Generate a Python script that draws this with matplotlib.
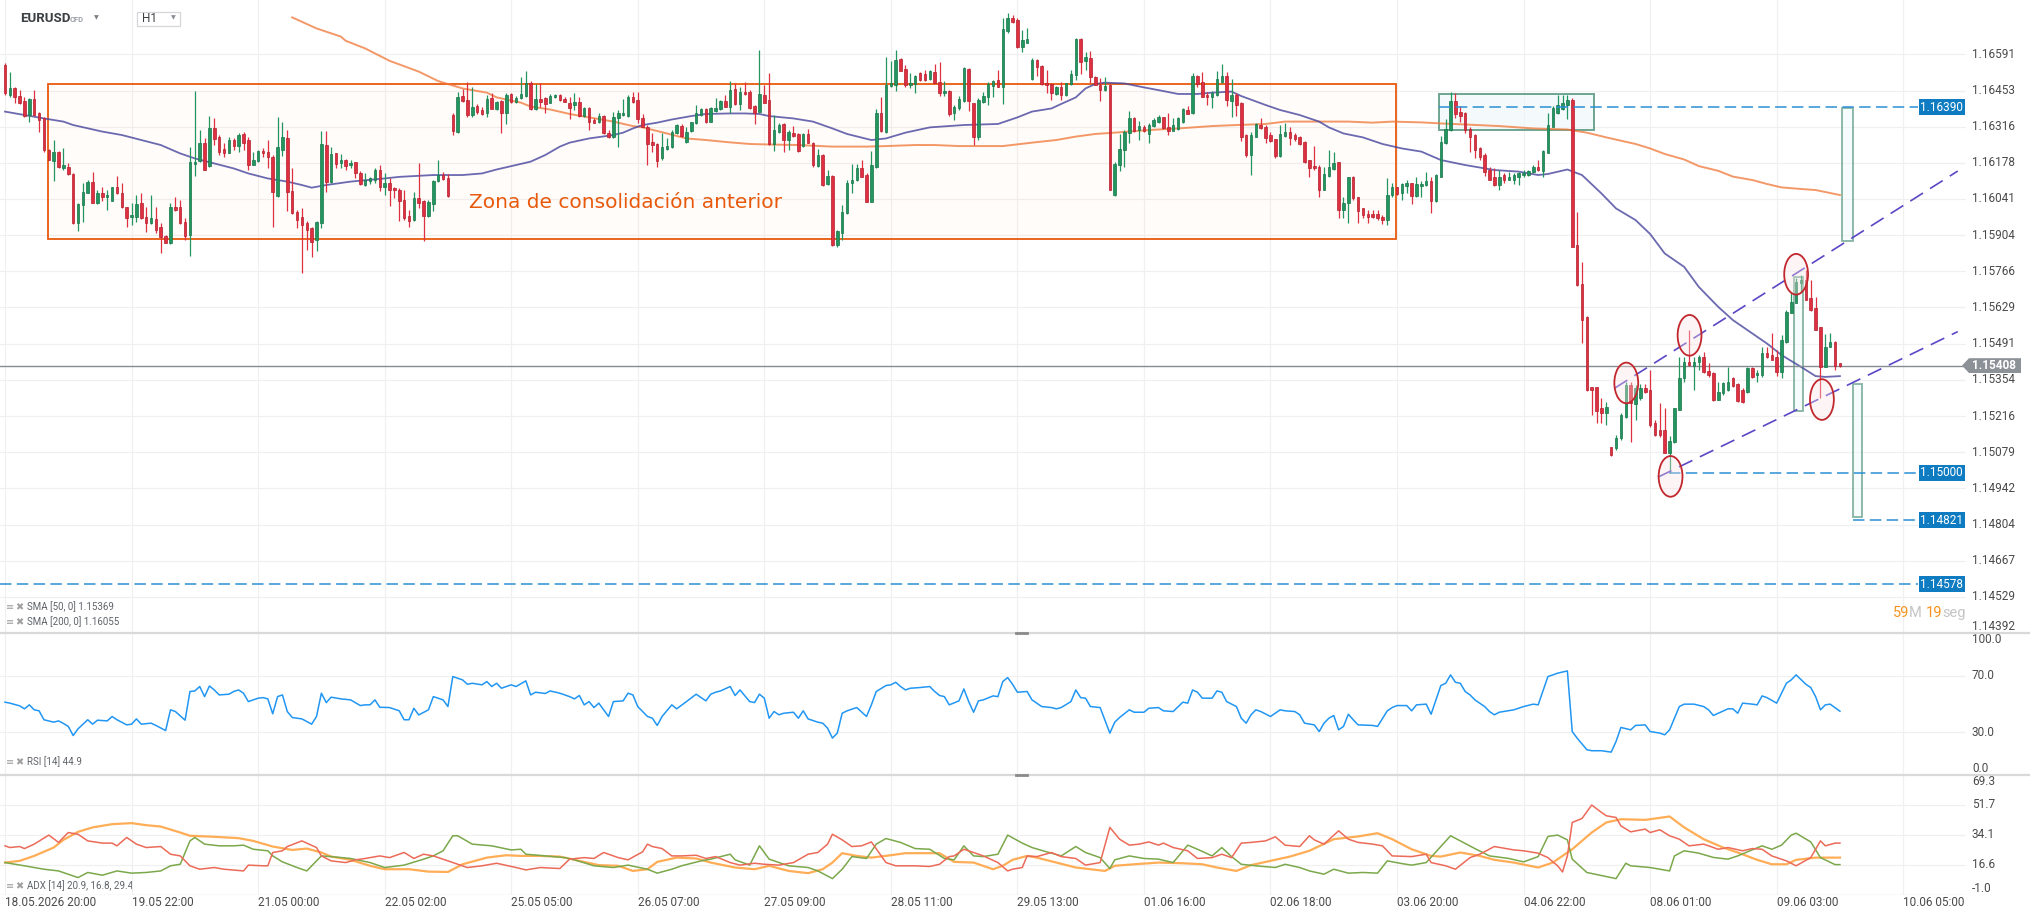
import numpy as np
import matplotlib
matplotlib.use("Agg")
import matplotlib.pyplot as plt
from matplotlib import transforms
from matplotlib.patches import Rectangle, Ellipse, Polygon
from matplotlib.lines import Line2D

plt.rcParams['font.family'] = ['Roboto', 'DejaVu Sans']

# ---------------- data ----------------
# hourly bars, one time label every 26 bars
time_labels = ["18.05.2026 20:00", "19.05 22:00", "21.05 00:00", "22.05 02:00", "25.05 05:00",
               "26.05 07:00", "27.05 09:00", "28.05 11:00", "29.05 13:00", "01.06 16:00",
               "02.06 18:00", "03.06 20:00", "04.06 22:00", "08.06 01:00", "09.06 03:00",
               "10.06 05:00"]
time_label_bars = [0, 26, 52, 78, 104, 130, 156, 182, 208, 234, 260, 286, 312, 338, 364, 390]

price_ticks = [1.14392, 1.14529, 1.14667, 1.14804, 1.14942, 1.15079, 1.15216, 1.15354, 1.15491,
               1.15629, 1.15766, 1.15904, 1.16041, 1.16178, 1.16316, 1.16453, 1.16591]
rsi_ticks = [0.0, 30.0, 70.0, 100.0]
adx_ticks = [-1.0, 16.575, 34.15, 51.725, 69.3]
adx_tick_labels = ["-1.0", "16.6", "34.1", "51.7", "69.3"]

# EURUSD H1 candles, prices in points (1e-5)
open_pts = [
    116550, 116436, 116461, 116432, 116414, 116360, 116419, 116366, 116347, 116227,
    116186, 116221, 116157, 116164, 116136, 115951, 116017, 116065, 116107, 116024,
    116062, 116047, 116034, 116085, 116065, 116009, 115971, 115973, 116024, 115971,
    115948, 115965, 115933, 115901, 115875, 116009, 116009, 115954, 115904, 116174,
    116186, 116255, 116166, 116309, 116275, 116229, 116217, 116265, 116242, 116286,
    116265, 116172, 116186, 116223, 116221, 116202, 116052, 116227, 116274, 116071,
    115992, 115971, 115951, 115929, 115885, 115948, 116246, 116107, 116214, 116176,
    116189, 116170, 116180, 116141, 116094, 116110, 116113, 116151, 116087, 116100,
    116081, 116077, 116039, 115976, 115961, 116043, 116034, 115976, 116022, 116110,
    116134, 116122, 116360, 116297, 116432, 116417, 116360, 116394, 116379, 116369,
    116423, 116381, 116414, 116369, 116440, 116408, 116423, 116432, 116483, 116381,
    116419, 116423, 116407, 116427, 116435, 116419, 116404, 116398, 116408, 116356,
    116385, 116341, 116335, 116356, 116293, 116275, 116347, 116360, 116356, 116427,
    116417, 116347, 116316, 116256, 116250, 116195, 116229, 116237, 116290, 116318,
    116259, 116300, 116328, 116360, 116381, 116335, 116376, 116381, 116414, 116392,
    116457, 116400, 116449, 116449, 116394, 116373, 116436, 116417, 116250, 116297,
    116326, 116265, 116293, 116288, 116242, 116288, 116255, 116167, 116208, 116098,
    116128, 115866, 115913, 115986, 116103, 116115, 116158, 116132, 116030, 116164,
    116369, 116297, 116470, 116474, 116571, 116533, 116474, 116478, 116518, 116516,
    116495, 116525, 116487, 116442, 116451, 116366, 116385, 116414, 116533, 116404,
    116275, 116411, 116427, 116471, 116493, 116468, 116680, 116727, 116721, 116617,
    116635, 116495, 116569, 116546, 116483, 116478, 116440, 116465, 116436, 116478,
    116512, 116648, 116566, 116575, 116506, 116474, 116455, 116474, 116055, 116170,
    116227, 116293, 116347, 116303, 116313, 116288, 116318, 116335, 116351, 116313,
    116300, 116305, 116335, 116379, 116366, 116508, 116487, 116436, 116430, 116436,
    116487, 116508, 116414, 116436, 116407, 116284, 116208, 116278, 116322, 116316,
    116284, 116267, 116205, 116280, 116294, 116284, 116275, 116256, 116189, 116166,
    116164, 116077, 116129, 116155, 116180, 116001, 116027, 116123, 116047, 116005,
    115984, 115983, 115984, 115971, 115963, 116055, 116087, 116062, 116090, 116100,
    116052, 116090, 116094, 116109, 116034, 116126, 116252, 116303, 116414, 116373,
    116366, 116307, 116284, 116236, 116208, 116153, 116126, 116094, 116134, 116115,
    116113, 116126, 116132, 116132, 116145, 116161, 116148, 116217, 116316, 116366,
    116382, 116398, 116417, 115866, 115718, 115593, 115325, 115325, 115245, 115226,
    115097, 115093, 115131, 115213, 115334, 115261, 115283, 115321, 115315, 115191,
    115165, 115163, 115077, 115118, 115241, 115359, 115422, 115406, 115422, 115441,
    115388, 115378, 115279, 115302, 115315, 115362, 115337, 115315, 115308, 115397,
    115372, 115372, 115454, 115448, 115439, 115384, 115498, 115609, 115647, 115723,
    115735, 115663, 115625, 115553, 115403, 115479, 115496, 115416]
high_pts = [
    116559, 116525, 116468, 116455, 116427, 116423, 116455, 116373, 116354, 116229,
    116265, 116224, 116233, 116176, 116138, 116027, 116100, 116115, 116145, 116075,
    116085, 116075, 116087, 116128, 116100, 116011, 116024, 116058, 116062, 116011,
    116056, 116011, 115948, 115904, 116024, 116049, 116039, 115967, 116240, 116452,
    116303, 116271, 116356, 116347, 116284, 116252, 116275, 116271, 116290, 116297,
    116278, 116221, 116227, 116233, 116265, 116208, 116354, 116335, 116303, 116160,
    116001, 116005, 115958, 115935, 115958, 116299, 116300, 116240, 116217, 116212,
    116193, 116189, 116183, 116148, 116138, 116125, 116157, 116169, 116138, 116119,
    116087, 116081, 116075, 115999, 116066, 116179, 116037, 116037, 116115, 116189,
    116145, 116136, 116366, 116449, 116457, 116487, 116465, 116402, 116389, 116436,
    116442, 116414, 116417, 116442, 116442, 116432, 116506, 116527, 116490, 116478,
    116483, 116427, 116440, 116440, 116438, 116427, 116427, 116442, 116430, 116392,
    116392, 116347, 116366, 116360, 116303, 116371, 116379, 116419, 116436, 116449,
    116449, 116364, 116322, 116293, 116252, 116290, 116271, 116303, 116326, 116326,
    116316, 116335, 116398, 116385, 116388, 116389, 116423, 116417, 116436, 116489,
    116480, 116465, 116487, 116455, 116398, 116607, 116474, 116521, 116360, 116328,
    116328, 116303, 116318, 116290, 116290, 116305, 116259, 116229, 116210, 116151,
    116134, 115923, 116018, 116115, 116174, 116174, 116189, 116138, 116223, 116381,
    116427, 116582, 116566, 116607, 116575, 116550, 116518, 116512, 116525, 116531,
    116531, 116554, 116563, 116490, 116455, 116398, 116432, 116544, 116537, 116407,
    116423, 116449, 116487, 116493, 116531, 116727, 116746, 116740, 116727, 116683,
    116689, 116578, 116571, 116550, 116531, 116483, 116470, 116487, 116483, 116531,
    116651, 116651, 116601, 116603, 116508, 116499, 116503, 116478, 116183, 116288,
    116303, 116375, 116351, 116337, 116322, 116331, 116347, 116360, 116354, 116366,
    116347, 116351, 116388, 116394, 116518, 116511, 116525, 116449, 116452, 116528,
    116554, 116523, 116497, 116442, 116411, 116288, 116297, 116328, 116347, 116322,
    116297, 116270, 116322, 116328, 116313, 116290, 116280, 116262, 116191, 116242,
    116170, 116164, 116227, 116221, 116183, 116049, 116125, 116128, 116049, 116005,
    115999, 116001, 116001, 115980, 116119, 116103, 116087, 116100, 116113, 116103,
    116123, 116110, 116145, 116126, 116136, 116280, 116343, 116449, 116445, 116394,
    116373, 116313, 116288, 116240, 116217, 116161, 116157, 116153, 116138, 116145,
    116138, 116145, 116151, 116153, 116170, 116189, 116227, 116366, 116394, 116436,
    116436, 116436, 116423, 115993, 115802, 115596, 115327, 115327, 115283, 115270,
    115099, 115144, 115226, 115346, 115346, 115334, 115337, 115337, 115391, 115201,
    115264, 115245, 115140, 115245, 115441, 115441, 115543, 115441, 115448, 115460,
    115416, 115384, 115346, 115346, 115403, 115365, 115340, 115321, 115401, 115403,
    115391, 115479, 115477, 115530, 115467, 115524, 115619, 115682, 115739, 115752,
    115771, 115733, 115669, 115555, 115528, 115530, 115502, 115419]
low_pts = [
    116436, 116430, 116407, 116402, 116354, 116335, 116356, 116297, 116221, 116189,
    116110, 116157, 116151, 116132, 115946, 115920, 115953, 116062, 116024, 116022,
    116034, 116001, 116032, 116060, 116006, 115935, 115942, 115953, 115965, 115916,
    115946, 115910, 115834, 115872, 115870, 115996, 115946, 115887, 115824, 116128,
    116183, 116151, 116164, 116246, 116208, 116202, 116214, 116227, 116221, 116227,
    116153, 116170, 116183, 116202, 116157, 115935, 116049, 116204, 115996, 115984,
    115929, 115758, 115847, 115821, 115844, 115929, 116068, 116103, 116157, 116157,
    116153, 116157, 116119, 116094, 116090, 116098, 116103, 116072, 116056, 116014,
    116043, 115958, 115961, 115933, 115957, 116005, 115882, 115973, 115995, 116107,
    116113, 116049, 116284, 116293, 116411, 116351, 116354, 116364, 116360, 116354,
    116381, 116379, 116293, 116326, 116407, 116404, 116419, 116427, 116379, 116379,
    116392, 116366, 116404, 116423, 116414, 116408, 116343, 116379, 116354, 116351,
    116303, 116328, 116331, 116288, 116271, 116272, 116240, 116356, 116354, 116404,
    116331, 116313, 116170, 116221, 116161, 116191, 116227, 116233, 116288, 116278,
    116255, 116297, 116326, 116356, 116328, 116332, 116373, 116379, 116389, 116366,
    116398, 116379, 116436, 116381, 116326, 116370, 116404, 116246, 116224, 116293,
    116221, 116227, 116278, 116221, 116240, 116252, 116164, 116161, 116090, 116094,
    115863, 115859, 115885, 115984, 116065, 116110, 116123, 116028, 116028, 116157,
    116297, 116293, 116468, 116452, 116526, 116465, 116461, 116445, 116490, 116490,
    116493, 116480, 116432, 116432, 116356, 116341, 116379, 116411, 116376, 116246,
    116265, 116407, 116398, 116427, 116465, 116402, 116673, 116711, 116613, 116601,
    116632, 116493, 116508, 116474, 116442, 116417, 116436, 116417, 116432, 116474,
    116493, 116516, 116531, 116480, 116474, 116414, 116452, 116075, 116052, 116148,
    116164, 116252, 116297, 116265, 116297, 116255, 116313, 116328, 116305, 116284,
    116298, 116303, 116331, 116362, 116364, 116465, 116427, 116398, 116385, 116432,
    116483, 116394, 116354, 116356, 116262, 116199, 116132, 116275, 116305, 116255,
    116259, 116195, 116202, 116278, 116246, 116262, 116246, 116179, 116123, 116151,
    116049, 116075, 116125, 116151, 115967, 115967, 115948, 116037, 115951, 115967,
    115951, 115970, 115963, 115946, 115942, 116049, 116058, 116039, 116065, 116022,
    116050, 116047, 116090, 115986, 116031, 116123, 116250, 116301, 116347, 116335,
    116293, 116221, 116195, 116191, 116128, 116113, 116090, 116075, 116100, 116113,
    116098, 116094, 116126, 116128, 116141, 116148, 116126, 116214, 116313, 116364,
    116379, 116343, 115857, 115710, 115492, 115312, 115220, 115191, 115188, 115182,
    115064, 115089, 115127, 115207, 115118, 115203, 115277, 115302, 115175, 115140,
    115135, 115074, 114998, 115115, 115239, 115346, 115406, 115315, 115391, 115381,
    115365, 115274, 115277, 115296, 115312, 115327, 115270, 115264, 115305, 115359,
    115346, 115365, 115435, 115429, 115368, 115359, 115495, 115606, 115644, 115688,
    115657, 115616, 115543, 115283, 115401, 115477, 115391, 115403]
close_pts = [
    116442, 116461, 116427, 116404, 116356, 116419, 116360, 116341, 116227, 116191,
    116221, 116161, 116170, 116136, 115951, 116022, 116068, 116107, 116027, 116065,
    116049, 116055, 116085, 116062, 116009, 115967, 115980, 116022, 115967, 115948,
    115967, 115923, 115897, 115875, 116009, 115999, 115948, 115900, 116181, 116183,
    116255, 116153, 116309, 116267, 116221, 116217, 116265, 116242, 116284, 116255,
    116170, 116189, 116223, 116214, 116199, 116068, 116240, 116278, 116068, 115986,
    115963, 115942, 115925, 115878, 115954, 116250, 116107, 116212, 116174, 116189,
    116167, 116179, 116138, 116098, 116115, 116119, 116153, 116087, 116100, 116075,
    116075, 116034, 115967, 115958, 116043, 116024, 115976, 116030, 116110, 116134,
    116118, 116052, 116300, 116430, 116414, 116360, 116389, 116373, 116364, 116419,
    116383, 116408, 116369, 116436, 116411, 116426, 116440, 116483, 116383, 116419,
    116411, 116402, 116432, 116435, 116417, 116411, 116388, 116408, 116356, 116385,
    116335, 116331, 116356, 116290, 116275, 116351, 116369, 116369, 116427, 116411,
    116343, 116316, 116250, 116246, 116186, 116237, 116242, 116294, 116322, 116280,
    116294, 116332, 116366, 116381, 116335, 116385, 116388, 116413, 116392, 116455,
    116400, 116449, 116440, 116385, 116369, 116440, 116407, 116250, 116303, 116322,
    116265, 116297, 116281, 116224, 116288, 116255, 116170, 116208, 116094, 116128,
    115866, 115920, 115992, 116103, 116115, 116158, 116125, 116030, 116170, 116369,
    116300, 116474, 116480, 116569, 116528, 116474, 116480, 116508, 116493, 116493,
    116527, 116483, 116442, 116451, 116364, 116389, 116419, 116540, 116414, 116278,
    116417, 116432, 116478, 116489, 116468, 116687, 116727, 116715, 116617, 116645,
    116649, 116569, 116541, 116478, 116474, 116442, 116465, 116435, 116480, 116516,
    116648, 116563, 116579, 116503, 116474, 116455, 116470, 116077, 116174, 116229,
    116297, 116347, 116300, 116318, 116300, 116322, 116341, 116354, 116309, 116300,
    116322, 116347, 116381, 116364, 116508, 116478, 116430, 116427, 116442, 116495,
    116508, 116417, 116436, 116398, 116278, 116208, 116284, 116326, 116309, 116271,
    116262, 116205, 116288, 116294, 116271, 116267, 116250, 116183, 116157, 116157,
    116077, 116136, 116161, 116176, 116001, 116027, 116123, 116043, 115996, 115980,
    115973, 115973, 115967, 115963, 116058, 116087, 116060, 116098, 116103, 116052,
    116098, 116098, 116109, 116034, 116132, 116259, 116305, 116414, 116364, 116356,
    116303, 116278, 116227, 116202, 116145, 116115, 116094, 116123, 116113, 116126,
    116132, 116138, 116141, 116148, 116161, 116151, 116224, 116322, 116385, 116398,
    116407, 116417, 115859, 115714, 115583, 115315, 115317, 115236, 115226, 115251,
    115068, 115131, 115220, 115334, 115267, 115321, 115321, 115308, 115182, 115144,
    115144, 115077, 115122, 115245, 115362, 115422, 115410, 115422, 115441, 115384,
    115372, 115277, 115308, 115343, 115346, 115330, 115274, 115270, 115397, 115365,
    115381, 115454, 115439, 115431, 115384, 115505, 115612, 115650, 115726, 115735,
    115659, 115619, 115545, 115403, 115479, 115498, 115406, 115407]

# moving averages read at bar positions (points)
sma50_bar = [0, 8, 12, 14, 20, 24, 28, 32, 36, 39, 43, 47, 50, 54, 58, 61, 63, 66, 71, 78, 81, 88,
             94, 98, 101, 105, 108, 111, 114, 116, 120, 125, 127, 129, 131, 134, 137, 141, 144,
             149, 152, 155, 157, 162, 166, 170, 173, 178, 181, 185, 190, 197, 204, 208, 211, 215,
             217, 220, 222, 224, 226, 230, 234, 238, 241, 245, 248, 252, 254, 259, 262, 266, 270,
             272, 275, 279, 283, 287, 291, 295, 300, 306, 311, 315, 317, 321, 324, 328, 331, 335,
             338, 341, 345, 348, 352, 355, 359, 362, 365, 369, 372, 374, 377]
sma50_pts = [116373, 116347, 116335, 116322, 116297, 116284, 116265, 116246, 116214, 116195, 116176,
             116157, 116138, 116119, 116107, 116094, 116084, 116094, 116107, 116119, 116125, 116132,
             116132, 116138, 116153, 116170, 116183, 116208, 116240, 116255, 116271, 116284, 116293,
             116309, 116322, 116331, 116343, 116356, 116364, 116366, 116366, 116364, 116356, 116347,
             116335, 116309, 116288, 116265, 116271, 116293, 116313, 116322, 116326, 116351, 116373,
             116385, 116402, 116427, 116461, 116478, 116483, 116480, 116465, 116451, 116440, 116440,
             116445, 116449, 116432, 116398, 116379, 116360, 116335, 116313, 116290, 116275, 116250,
             116233, 116221, 116189, 116170, 116151, 116145, 116132, 116136, 116153, 116132, 116062,
             116005, 115961, 115908, 115834, 115783, 115707, 115631, 115581, 115530, 115492, 115448,
             115403, 115368, 115365, 115368]
sma200_bar = [59, 64, 69, 70, 74, 79, 85, 89, 94, 99, 101, 106, 108, 112, 116, 120, 125, 129, 131,
              136, 140, 144, 149, 153, 157, 163, 170, 177, 181, 187, 191, 196, 205, 211, 216, 220,
              224, 228, 235, 241, 248, 253, 259, 263, 269, 276, 281, 285, 291, 295, 300, 307, 314,
              321, 325, 329, 335, 338, 341, 345, 348, 352, 355, 359, 362, 365, 369, 372, 377]
sma200_pts = [116731, 116689, 116658, 116642, 116613, 116566, 116525, 116489, 116461, 116445, 116427,
              116407, 116392, 116381, 116364, 116351, 116335, 116318, 116313, 116290, 116271, 116265,
              116256, 116250, 116248, 116246, 116240, 116240, 116242, 116246, 116246, 116242, 116242,
              116255, 116265, 116278, 116288, 116293, 116303, 116309, 116318, 116322, 116326, 116335,
              116335, 116335, 116331, 116335, 116332, 116328, 116324, 116318, 116309, 116305, 116293,
              116275, 116250, 116233, 116212, 116191, 116166, 116148, 116126, 116113, 116098, 116085,
              116079, 116075, 116056]

# RSI [14]
rsi_bar = [0, 1, 3, 4, 5, 6, 7, 8, 10, 11, 12, 13, 14, 15, 17, 18, 19, 21, 22, 23, 25, 26, 27, 28, 30,
           31, 33, 34, 35, 37, 38, 39, 40, 41, 42, 43, 44, 46, 47, 48, 49, 50, 52, 53, 54, 55, 56, 57,
           58, 59, 61, 63, 64, 65, 66, 67, 69, 71, 73, 74, 75, 76, 77, 79, 81, 82, 83, 84, 85, 87, 88,
           90, 91, 92, 94, 95, 96, 98, 99, 100, 101, 102, 104, 105, 107, 108, 109, 111, 112, 114, 116,
           117, 118, 119, 120, 121, 122, 124, 125, 127, 128, 129, 130, 132, 133, 134, 135, 137, 138,
           140, 142, 144, 145, 146, 147, 149, 150, 151, 153, 154, 155, 156, 157, 158, 159, 160, 162,
           163, 164, 165, 167, 168, 169, 170, 171, 172, 173, 175, 177, 178, 179, 181, 182, 183, 184,
           185, 186, 188, 190, 191, 192, 193, 194, 196, 197, 198, 199, 200, 201, 203, 204, 205, 206,
           207, 208, 210, 211, 213, 215, 216, 217, 219, 220, 221, 222, 223, 225, 227, 228, 229, 231,
           232, 234, 235, 237, 238, 240, 242, 243, 244, 245, 246, 248, 249, 250, 251, 253, 254, 255,
           256, 257, 258, 260, 262, 263, 265, 266, 267, 269, 270, 271, 272, 273, 274, 275, 276, 277,
           278, 281, 282, 284, 285, 286, 288, 289, 290, 292, 293, 295, 296, 297, 298, 299, 300, 301,
           302, 304, 305, 306, 307, 310, 312, 314, 315, 317, 319, 321, 322, 323, 325, 326, 328, 330,
           331, 332, 334, 335, 337, 338, 340, 341, 342, 344, 345, 347, 349, 350, 351, 352, 354, 355,
           356, 357, 359, 360, 361, 362, 364, 366, 367, 368, 370, 371, 372, 373, 374, 375, 377]
rsi_val = [51.3, 50.6, 48.7, 46.6, 49.4, 45.9, 45.2, 38.9, 37.2, 38.1, 36.3, 34.2, 27.8, 32.5, 38.9,
           35.8, 38.6, 38.1, 41.2, 38.9, 35.3, 35.8, 39.5, 35.8, 36.5, 34.9, 31.3, 45.9, 44.7, 38.6,
           58.8, 59.2, 62.3, 55.2, 62.7, 59.9, 56.4, 56.9, 58.8, 59.9, 57.6, 51.7, 54.1, 54.5, 53.6,
           43.1, 55.2, 56.4, 44.7, 40.5, 39.5, 35.8, 41.2, 57.6, 51.0, 54.8, 53.6, 52.9, 48.9, 49.4,
           49.4, 52.9, 47.7, 47.5, 45.2, 38.9, 38.9, 47.0, 42.3, 45.9, 55.2, 52.9, 48.2, 69.3, 67.0,
           63.9, 64.6, 63.5, 65.8, 62.3, 64.6, 61.1, 63.5, 62.3, 66.3, 56.4, 58.3, 57.4, 59.2, 57.6,
           55.2, 53.6, 56.0, 49.4, 51.7, 47.5, 50.6, 41.2, 51.7, 52.2, 57.6, 56.4, 48.2, 41.2, 40.0,
           34.9, 41.2, 49.4, 46.6, 51.7, 56.9, 52.2, 56.9, 58.3, 59.2, 62.3, 56.0, 59.9, 51.7, 51.0,
           56.9, 54.1, 40.0, 44.7, 42.4, 43.5, 44.2, 40.0, 45.2, 39.5, 37.2, 36.5, 33.0, 26.0, 29.5,
           43.5, 45.2, 47.5, 41.2, 49.4, 58.8, 63.0, 63.5, 65.3, 62.3, 59.9, 61.1, 61.6, 62.3, 58.8,
           56.0, 55.2, 49.4, 52.2, 60.6, 51.7, 44.2, 52.2, 52.9, 55.7, 55.2, 65.8, 68.6, 63.9, 58.3,
           58.8, 52.9, 48.2, 47.5, 46.6, 47.5, 51.7, 59.9, 54.5, 54.1, 48.2, 47.5, 29.5, 37.2, 40.5,
           45.9, 44.2, 44.2, 47.0, 47.5, 45.2, 44.7, 51.3, 50.6, 59.9, 58.3, 54.1, 54.1, 59.2, 58.3,
           51.7, 48.2, 40.0, 36.5, 42.4, 45.9, 44.7, 41.2, 45.9, 45.2, 44.7, 42.4, 36.5, 35.3, 30.6,
           36.5, 40.0, 41.9, 31.8, 34.2, 42.8, 38.9, 35.3, 34.9, 34.2, 45.2, 47.5, 48.9, 48.9, 45.2,
           49.4, 49.9, 42.8, 63.0, 64.6, 70.5, 65.3, 64.6, 58.8, 56.4, 52.9, 48.2, 44.7, 42.4, 44.2,
           45.9, 48.2, 49.9, 49.4, 69.3, 71.7, 73.3, 30.6, 26.0, 17.8, 17.1, 17.1, 16.1, 23.6, 33.5,
           31.8, 34.9, 35.3, 30.6, 29.5, 28.3, 31.8, 48.2, 49.9, 49.9, 48.2, 45.9, 41.9, 43.5, 46.6,
           46.6, 43.5, 50.6, 49.9, 49.4, 55.7, 54.5, 50.6, 64.6, 67.0, 70.5, 63.9, 61.6, 55.2, 45.9,
           49.4, 49.9, 44.9]

# ADX [14]: ADX, +DI, -DI
adx_bar = [0, 3, 6, 10, 12, 15, 18, 22, 26, 29, 32, 36, 38, 43, 48, 51, 55, 59, 62, 65, 67, 71, 75,
           78, 83, 87, 91, 94, 99, 103, 106, 110, 114, 118, 122, 126, 129, 132, 134, 138, 142, 145,
           150, 154, 157, 161, 165, 168, 170, 172, 175, 178, 182, 185, 190, 192, 195, 199, 203, 205,
           207, 210, 212, 216, 220, 223, 226, 228, 232, 237, 242, 246, 249, 253, 256, 260, 264, 268,
           273, 278, 282, 285, 289, 293, 295, 299, 303, 306, 310, 315, 318, 322, 326, 329, 332, 337,
           342, 345, 349, 353, 356, 360, 363, 366, 368, 372, 377]
adx_val = [18.0, 19.0, 21.9, 26.8, 31.3, 36.0, 38.6, 40.5, 41.1, 39.9, 39.1, 35.6, 33.7, 33.1, 32.3,
           30.7, 27.4, 25.4, 26.2, 23.9, 21.5, 19.6, 16.1, 14.1, 14.1, 12.7, 12.5, 17.0, 20.9, 22.3,
           21.9, 21.9, 21.5, 19.0, 16.5, 16.1, 13.1, 14.1, 18.4, 20.9, 20.4, 18.0, 15.1, 14.1, 16.1,
           13.1, 11.8, 14.1, 18.0, 23.5, 21.9, 20.9, 22.3, 23.5, 23.5, 23.5, 18.4, 18.0, 14.1, 16.1,
           19.6, 21.9, 20.9, 18.0, 15.1, 14.1, 13.1, 16.1, 17.0, 18.0, 17.6, 17.0, 15.1, 13.1, 16.5,
           19.0, 21.5, 24.9, 31.7, 33.3, 35.2, 31.7, 25.8, 21.9, 21.5, 23.9, 21.9, 19.6, 18.0, 15.1,
           18.0, 25.8, 35.6, 41.5, 43.4, 43.0, 45.0, 38.6, 31.7, 26.8, 23.9, 19.6, 17.0, 17.0, 19.6,
           20.9, 20.9]
pdi_bar = [0, 4, 8, 11, 15, 17, 20, 23, 26, 29, 32, 34, 36, 38, 39, 41, 44, 47, 49, 51, 54, 55, 57,
           60, 62, 65, 67, 71, 75, 78, 82, 86, 88, 90, 92, 93, 96, 100, 104, 106, 107, 111, 115, 117,
           121, 125, 128, 132, 134, 137, 139, 143, 145, 149, 150, 153, 155, 157, 161, 165, 167, 170,
           172, 174, 177, 179, 181, 184, 187, 190, 193, 195, 197, 199, 201, 204, 206, 209, 211, 214,
           217, 220, 222, 225, 227, 228, 231, 234, 237, 240, 243, 245, 248, 250, 252, 254, 257, 261,
           263, 266, 268, 271, 273, 276, 279, 282, 284, 287, 289, 292, 295, 297, 299, 302, 305, 309,
           312, 315, 317, 319, 321, 322, 325, 329, 331, 333, 334, 338, 342, 343, 345, 348, 351, 354,
           356, 358, 361, 363, 365, 367, 368, 371, 373, 376, 377]
pdi_val = [18.0, 16.1, 14.1, 13.1, 9.2, 12.2, 10.6, 13.1, 11.8, 12.2, 13.1, 16.1, 17.0, 30.7, 32.7,
           28.8, 27.8, 27.8, 28.2, 25.8, 24.9, 21.9, 18.4, 15.1, 13.1, 21.9, 21.5, 20.4, 18.0, 15.1,
           16.5, 20.0, 21.9, 24.9, 33.7, 33.7, 28.8, 27.8, 25.4, 25.8, 22.9, 21.9, 20.9, 19.6, 16.1,
           15.1, 16.5, 14.1, 11.8, 14.1, 16.1, 19.0, 20.0, 22.9, 19.6, 16.5, 27.8, 20.0, 16.1, 15.1,
           13.1, 8.6, 14.1, 21.5, 20.4, 28.8, 32.1, 29.8, 26.2, 25.8, 20.4, 19.6, 27.8, 21.9, 21.5,
           22.9, 34.1, 29.4, 26.8, 24.3, 21.9, 27.4, 23.9, 20.9, 14.5, 19.6, 21.9, 20.4, 20.0, 18.0,
           28.2, 25.8, 21.9, 26.8, 21.5, 17.0, 16.1, 15.1, 17.0, 15.1, 13.1, 11.2, 14.1, 11.8, 12.2,
           11.8, 19.0, 17.4, 16.5, 18.0, 27.4, 33.7, 30.7, 26.2, 21.9, 20.4, 18.4, 21.5, 33.3, 34.1,
           31.3, 20.0, 12.2, 9.8, 8.6, 17.6, 16.1, 15.1, 13.1, 21.9, 24.9, 23.5, 21.0, 20.0, 21.9,
           24.3, 27.8, 25.8, 28.2, 34.1, 35.2, 30.1, 20.9, 16.8, 16.8]
mdi_bar = [0, 1, 3, 4, 6, 9, 11, 13, 15, 17, 20, 22, 23, 25, 27, 29, 32, 34, 36, 38, 40, 43, 45, 49,
           50, 53, 54, 55, 57, 58, 61, 64, 65, 67, 70, 72, 74, 77, 79, 82, 84, 86, 88, 92, 95, 98,
           101, 105, 107, 110, 114, 116, 119, 121, 123, 126, 128, 131, 132, 133, 135, 137, 139, 142,
           144, 146, 149, 151, 154, 156, 159, 162, 165, 167, 169, 170, 172, 174, 176, 178, 181, 183,
           187, 190, 192, 194, 195, 197, 199, 201, 204, 206, 207, 209, 210, 212, 215, 217, 220, 222,
           225, 227, 229, 231, 233, 235, 237, 238, 240, 243, 245, 248, 250, 252, 254, 256, 259, 261,
           263, 266, 268, 269, 271, 274, 276, 278, 281, 283, 285, 289, 292, 293, 296, 298, 301, 303,
           306, 310, 312, 315, 317, 319, 320, 321, 322, 324, 326, 328, 329, 331, 332, 334, 337, 338,
           340, 342, 344, 346, 349, 352, 354, 357, 359, 361, 363, 366, 368, 371, 373, 374, 376, 377]
mdi_val = [27.8, 26.8, 27.4, 26.2, 28.8, 34.1, 29.8, 35.6, 34.6, 30.7, 29.4, 29.4, 27.8, 32.7, 28.8,
           26.8, 27.4, 22.9, 21.9, 16.1, 14.1, 15.1, 14.1, 13.1, 16.5, 16.1, 16.1, 23.9, 24.9, 27.4,
           30.7, 26.8, 21.9, 19.0, 18.0, 19.6, 20.4, 21.9, 20.9, 23.9, 20.4, 22.9, 21.9, 18.0, 15.1,
           16.1, 17.6, 15.1, 13.7, 15.1, 14.5, 20.0, 20.9, 20.4, 23.9, 20.9, 19.6, 24.3, 28.8, 27.4,
           26.2, 21.9, 21.9, 22.3, 20.4, 21.5, 18.0, 16.5, 17.6, 17.0, 16.5, 18.0, 22.9, 23.9, 28.8,
           34.6, 31.3, 27.4, 27.8, 30.1, 18.0, 16.1, 16.1, 15.7, 17.0, 21.5, 21.9, 25.8, 23.9, 21.9,
           18.0, 13.1, 14.1, 15.1, 21.9, 21.5, 23.9, 21.5, 20.4, 16.5, 18.0, 38.6, 31.7, 28.2, 28.8,
           30.1, 28.2, 29.4, 26.8, 24.9, 20.4, 20.9, 22.9, 20.9, 29.4, 29.8, 30.7, 33.1, 28.2, 27.4,
           33.7, 31.3, 28.8, 36.6, 31.7, 29.8, 28.8, 27.8, 21.9, 21.5, 22.9, 18.0, 16.1, 14.1, 20.9,
           22.9, 27.4, 25.4, 24.9, 23.5, 20.9, 16.1, 12.5, 21.9, 41.5, 43.8, 51.7, 47.4, 45.4, 44.4,
           39.5, 36.0, 37.6, 35.6, 37.2, 33.7, 31.7, 27.8, 28.8, 25.8, 26.8, 24.9, 26.2, 25.8, 21.9,
           19.0, 16.1, 20.9, 30.7, 27.8, 29.4, 29.4]

last_price = 1.15408
level_prices = [1.16390, 1.15000, 1.14821, 1.14578]
level_labels = ["1.16390", "1.15000", "1.14821", "1.14578"]
level_start_bar = [294.7, 341.8, 379.6, -1.0]

# ---------------- figure ----------------
W, H = 2031, 918
fig = plt.figure(figsize=(W / 100, H / 100), dpi=100)
fig.patch.set_facecolor("white")

R = 1966 / W
ax = fig.add_axes([0, 1 - 633 / H, R, 633 / H])
ax_rsi = fig.add_axes([0, 1 - 775 / H, R, 142 / H])
ax_adx = fig.add_axes([0, 1 - 895 / H, R, 120 / H])

GRID = "#f0f0f0"
TXT = "#4a4a4a"
GREEN, GREEN_E = "#23955f", "#17754a"
RED, RED_E = "#de3040", "#b41f2e"
XL = (-1.03, 402.9)
YL = (1.14392, 1.16797)

for a in (ax, ax_rsi, ax_adx):
    a.set_xticks([])
    a.set_yticks([])
    for s in a.spines.values():
        s.set_visible(False)
    a.patch.set_alpha(0)
    for b in time_label_bars:
        a.axvline(b, color=GRID, lw=0.9, zorder=0)

for p in price_ticks:
    ax.axhline(p, color=GRID, lw=0.9, zorder=0)
for v in (30, 70):
    ax_rsi.axhline(v, color=GRID, lw=0.9, zorder=0)
for v in adx_ticks[:4]:
    ax_adx.axhline(v, color=GRID, lw=0.9, zorder=0)

# annotation boxes (behind candles)
ax.add_patch(Rectangle((8.9, 1.15888), 285.7 - 8.9, 1.16477 - 1.15888, fc="#ff8a3d", alpha=0.025,
                       ec="none", zorder=1))
ax.add_patch(Rectangle((8.9, 1.15888), 285.7 - 8.9, 1.16477 - 1.15888, fc="none", ec="#e8590c",
                       lw=1.3, zorder=1.5))
ax.text(95.3, 1.16026, "Zona de consolidación anterior", color="#e8590c", fontsize=14.5,
        family="DejaVu Sans", va="center", ha="left", zorder=6)

ax.add_patch(Rectangle((294.7, 1.16302), 326.5 - 294.7, 1.16439 - 1.16302, fc="#eef8fb", alpha=0.6,
                       ec="#0f6b4b", lw=1.4, zorder=1.5))
for x0, x1, y0, y1 in [(377.5, 379.6, 1.15880, 1.16386), (379.6, 381.6, 1.14832, 1.15337),
                       (367.6, 369.5, 1.15237, 1.15744)]:
    ax.add_patch(Rectangle((x0, y0), x1 - x0, y1 - y0, fc="#eef8f8", alpha=0.5, ec="#0f6b4b",
                           lw=1.3, zorder=1.5))

# moving averages
ax.plot(sma200_bar, np.array(sma200_pts) / 1e5, color="#f07636", lw=1.4, alpha=0.75, zorder=2)
ax.plot(sma50_bar, np.array(sma50_pts) / 1e5, color="#46449c", lw=1.3, alpha=0.8, zorder=2)

# candles
o = np.array(open_pts) / 1e5
h = np.array(high_pts) / 1e5
l = np.array(low_pts) / 1e5
c = np.array(close_pts) / 1e5
bars = np.arange(len(c))
up = c >= o
col = np.where(up, GREEN, RED)
edge = np.where(up, GREEN_E, RED_E)
ax.vlines(bars, l, h, colors=col, lw=0.9, zorder=3)
ax.bar(bars, np.maximum(np.abs(c - o), 0.00002), bottom=np.minimum(o, c), width=0.52, color=col,
       edgecolor=edge, linewidth=0.5, zorder=4)

# current price and levels
ax.axhline(last_price, color="#858b91", lw=1.0, zorder=2.5)
for p, x0 in zip(level_prices, level_start_bar):
    ax.hlines(p, x0, 393.1, colors="#2b8fd4", lw=1.1, linestyles=(0, (7.5, 3.5)), zorder=5)

# channel lines
ax.plot([330.7, 401.2], [1.15322, 1.16147], color="#5b46c6", lw=1.2, ls=(0, (9, 5)), zorder=5)
ax.plot([339.6, 401.2], [1.14984, 1.15537], color="#5b46c6", lw=1.2, ls=(0, (9, 5)), zorder=5)

# circled touches
for ex, ey in [(333.1, 1.15342), (346.1, 1.15523), (342.2, 1.14987), (368.0, 1.15755),
               (373.3, 1.15279)]:
    ax.add_patch(Ellipse((ex, ey), 4.9, 0.001546, fc="#fbe4e4", alpha=0.35, ec="none", zorder=5))
    ax.add_patch(Ellipse((ex, ey), 4.9, 0.001546, fc="none", ec="#c1272d", lw=1.3, zorder=5))

# indicators
ax_rsi.plot(rsi_bar, rsi_val, color="#2196f3", lw=1.1)
ax_adx.plot(adx_bar, adx_val, color="#ffa443", lw=1.6, alpha=0.9)
ax_adx.plot(pdi_bar, pdi_val, color="#7ba84a", lw=1.1)
ax_adx.plot(mdi_bar, mdi_val, color="#ec6a58", lw=1.1)
ax_adx.axhline(adx_ticks[0], color="#ececec", lw=1.0, zorder=0)

ax.set_xlim(*XL)
ax.set_ylim(*YL)
ax_rsi.set_xlim(*XL)
ax_rsi.set_ylim(0, 100)
ax_adx.set_xlim(*XL)
ax_adx.set_ylim(adx_ticks[0], adx_ticks[-1])

# right axis labels
LX = 1972 / 1966


def right_labels(a, vals, texts, lo, hi):
    tr = transforms.blended_transform_factory(a.transAxes, a.transData)
    for v, s in zip(vals, texts):
        va = "bottom" if v == lo else ("top" if v == hi else "center")
        a.text(LX, v, s, transform=tr, ha="left", va=va, fontsize=8.5, color=TXT, clip_on=False)


right_labels(ax, price_ticks, ["%.5f" % p for p in price_ticks], YL[0], YL[1])
right_labels(ax_rsi, rsi_ticks, ["%.1f" % v for v in rsi_ticks], 0.0, 100.0)
right_labels(ax_adx, adx_ticks, adx_tick_labels, adx_ticks[0], adx_ticks[-1])

# price tags
trp = transforms.blended_transform_factory(ax.transAxes, ax.transData)
for p, s in zip(level_prices, level_labels):
    ax.text(1920.5 / 1966, p, s, transform=trp, ha="left", va="center", fontsize=8.5, color="white",
            clip_on=False, zorder=8,
            bbox=dict(boxstyle="square,pad=0.13", fc="#0f7cc1", ec="none"))

trf = transforms.blended_transform_factory(fig.transFigure, ax.transData)
hh = 7.4 * (YL[1] - YL[0]) / 633
fig.add_artist(Polygon([(1962 / W, last_price), (1969 / W, last_price + hh), (2021 / W, last_price + hh),
                        (2021 / W, last_price - hh), (1969 / W, last_price - hh)], closed=True,
                       transform=trf, fc="#8b9196", ec="none", zorder=10))
fig.text(1972 / W, last_price, "%.5f" % last_price, transform=trf, ha="left", va="center",
         fontsize=8.5, fontweight="bold", color="white", zorder=11)

# time labels
trx = transforms.blended_transform_factory(ax_adx.transData, ax_adx.transAxes)
for b, s in zip(time_label_bars, time_labels):
    ax_adx.text(b, -7 / 120, s, transform=trx, ha="left", va="center", fontsize=8.5, color=TXT,
                clip_on=False)

# pane separators and handles
for yy in (633, 775):
    fig.add_artist(Line2D([0, 1], [1 - yy / H] * 2, transform=fig.transFigure, color="#d9d9d9",
                          lw=1.6))
    fig.add_artist(Line2D([1016 / W, 1027 / W], [1 - yy / H] * 2, transform=fig.transFigure,
                          color="#8a8a8a", lw=2.0))


def chain(parts, px, py, size, weight="normal"):
    prev = None
    for s, colr in parts:
        if prev is None:
            prev = ax.annotate(s, xy=(px, H - py), xycoords="figure pixels", ha="left", va="center",
                               fontsize=size, color=colr, fontweight=weight, annotation_clip=False,
                               zorder=12)
        else:
            prev = ax.annotate(s, xy=(1, 0), xycoords=prev, ha="left", va="bottom", fontsize=size,
                               color=colr, fontweight=weight, annotation_clip=False, zorder=12)
    return prev


# header
chain([("EURUSD", "#3c4043")], 20, 18.5, 9.5, "bold")
chain([("CFD", "#9aa0a6")], 70, 19, 5.5, "bold")
chain([("▼", "#7a7f85")], 94, 17.5, 4.5)
fig.add_artist(Rectangle((137 / W, 1 - 26 / H), 43 / W, 14.3 / H, transform=fig.transFigure,
                         fc="white", ec="#d5d7da", lw=0.9, zorder=-1))
chain([("H1", "#3c4043")], 142, 19, 8.5)
chain([("▼", "#8a8f95")], 171, 18, 4.5)

# legends
ICON = "#a0a0a0"
chain([("≡ ", ICON), ("✖ ", ICON), ("SMA [50, 0] 1.15369", "#5f6368")], 6, 607, 7)
chain([("≡ ", ICON), ("✖ ", ICON), ("SMA [200, 0] 1.16055", "#5f6368")], 6, 622, 7)
chain([("≡ ", ICON), ("✖ ", ICON), ("RSI [14] 44.9", "#5f6368")], 6, 762, 7)
chain([("≡ ", ICON), ("✖ ", ICON), ("ADX [14] 20.9, 16.8, 29.4", "#5f6368")], 6, 886, 7)

# bar countdown
chain([("59", "#f7931e"), ("M ", "#c4c4c4"), ("19", "#f7931e"), ("seg", "#c4c4c4")], 1893, 613, 10.5)

fig.savefig("out.png", dpi=100, facecolor="white")
